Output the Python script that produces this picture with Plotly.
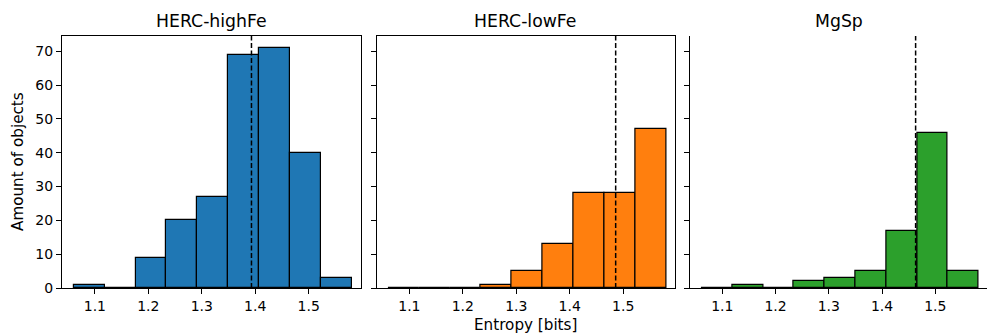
import plotly.graph_objects as go

# ---- data ----
panel_titles = ["HERC-highFe", "HERC-lowFe", "MgSp"]
bin_edges = [1.061, 1.119, 1.177, 1.234, 1.292, 1.350, 1.408, 1.466, 1.523, 1.581]
counts_highFe = [1, 0, 9, 20, 27, 69, 71, 40, 3]
counts_lowFe = [0, 0, 0, 1, 5, 13, 28, 28, 47]
counts_mgsp = [0, 1, 0, 2, 3, 5, 17, 46, 5]
mean_lines = [1.393, 1.486, 1.463]
x_ticks = [1.1, 1.2, 1.3, 1.4, 1.5]
y_ticks = [0, 10, 20, 30, 40, 50, 60, 70]
colors = ["#1f77b4", "#ff7f0e", "#2ca02c"]

W, H = 987, 336
centers = [(a + b) / 2 for a, b in zip(bin_edges[:-1], bin_edges[1:])]
widths = [b - a for a, b in zip(bin_edges[:-1], bin_edges[1:])]
all_counts = [counts_highFe, counts_lowFe, counts_mgsp]

# pixel extents of panels
px_left = [62, 376.5, 689.5]
px_w = 298.5
top_px, bottom_px = 36, 288

fig = go.Figure()
font = "DejaVu Sans, Arial, sans-serif"
xmin, xmax = 1.0385, 1.597
ymax = 71 * 1.05

for i in range(3):
    xa = "x" if i == 0 else f"x{i+1}"
    ya = "y" if i == 0 else f"y{i+1}"
    fig.add_trace(go.Bar(
        x=centers, y=all_counts[i], width=widths,
        marker=dict(color=colors[i], line=dict(color="black", width=1.2)),
        xaxis=xa, yaxis=ya, showlegend=False, hoverinfo="skip",
    ))
    d0 = px_left[i] / W
    d1 = min((px_left[i] + px_w) / W, 1.0)
    axkey = "xaxis" if i == 0 else f"xaxis{i+1}"
    aykey = "yaxis" if i == 0 else f"yaxis{i+1}"
    fig.layout[axkey] = dict(
        domain=[d0, d1], range=[xmin, xmax], anchor=ya,
        tickvals=x_ticks, ticktext=[f"{v:.1f}" for v in x_ticks],
        ticks="outside", ticklen=5, tickwidth=1, tickcolor="black",
        showline=True, linecolor="black", linewidth=1, mirror=(i < 2),
        showgrid=False, zeroline=False, automargin=False,
        tickfont=dict(family=font, size=14, color="black"),
    )
    fig.layout[aykey] = dict(
        domain=[(H - bottom_px) / H, (H - top_px) / H], range=[0, ymax], anchor=xa,
        tickvals=y_ticks, showticklabels=(i == 0),
        ticks="outside", ticklen=5, tickwidth=1, tickcolor="black",
        showline=True, linecolor="black", linewidth=1, mirror=True,
        showgrid=False, zeroline=False, automargin=False,
        tickfont=dict(family=font, size=14, color="black"),
    )
    fig.add_shape(type="line", xref=xa, yref=f"{ya} domain",
                  x0=mean_lines[i], x1=mean_lines[i], y0=0, y1=1,
                  line=dict(color="black", width=1.5, dash="5px,2.5px"))
    fig.add_annotation(text=panel_titles[i], xref="paper", yref="paper",
                       x=(px_left[i] + px_w / 2) / W, y=(H - 21) / H,
                       showarrow=False, xanchor="center", yanchor="middle",
                       font=dict(family=font, size=17.3, color="black"))

fig.add_annotation(text="Amount of objects", xref="paper", yref="paper",
                   x=18 / W, y=(H - 162) / H, textangle=-90, showarrow=False,
                   xanchor="center", yanchor="middle",
                   font=dict(family=font, size=15.2, color="black"))
fig.add_annotation(text="Entropy [bits]", xref="paper", yref="paper",
                   x=525 / W, y=(H - 325) / H, showarrow=False,
                   xanchor="center", yanchor="middle",
                   font=dict(family=font, size=15.2, color="black"))

fig.update_layout(
    width=W, height=H, autosize=False,
    margin=dict(l=0, r=0, t=0, b=0, autoexpand=False),
    plot_bgcolor="white", paper_bgcolor="white", bargap=0,
    font=dict(family=font, color="black"), hovermode=False,
)
fig.write_html("out.html",
               config={"displayModeBar": False, "responsive": False},
               post_script="document.body.style.margin='0';document.body.style.overflow='hidden';")
